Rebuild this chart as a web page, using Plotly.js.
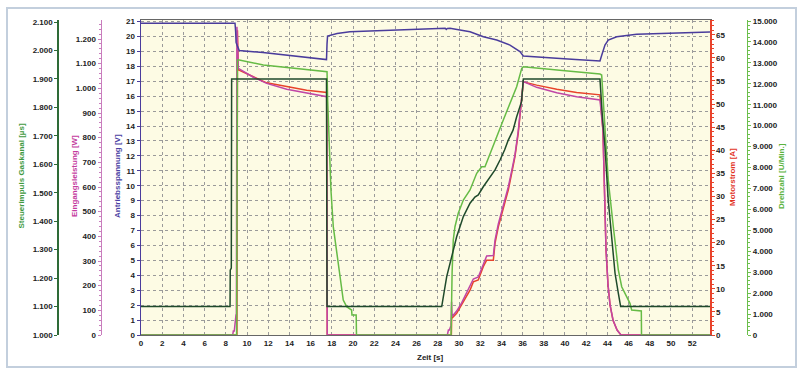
<!DOCTYPE html>
<html>
<head>
<meta charset="utf-8">
<script src="https://cdn.plot.ly/plotly-3.0.1.min.js"></script>
<style>html,body{margin:0;padding:0;background:#fff;}#chart{width:800px;height:374px;}</style>
</head>
<body>
<div id="chart"></div>
<script>
// ---- Data ----
// Antriebsspannung [V]
const tVolt = [0, 8.87, 8.93, 8.97, 9.1, 9.27, 11.5, 13.5, 15.5, 17.5, 17.55, 17.6, 18.5, 19.7, 21.6, 23.5, 25.5, 27.5, 28.7, 28.8, 28.9, 29.15, 30.0, 31.04, 32.3, 33.56, 34.81, 35.75, 36.07, 37.5, 39.2, 41.0, 43.3, 43.45, 43.61, 43.77, 44.08, 44.88, 46.76, 49.27, 51.79, 53.68];
const volt  = [20.88, 20.88, 20.3, 19.6, 19.35, 19.05, 18.92, 18.78, 18.62, 18.45, 19.5, 20.03, 20.2, 20.31, 20.36, 20.42, 20.46, 20.51, 20.55, 20.47, 20.53, 20.54, 20.45, 20.31, 19.98, 19.76, 19.42, 18.98, 18.69, 18.6, 18.53, 18.45, 18.35, 18.7, 19.09, 19.42, 19.76, 19.98, 20.14, 20.21, 20.27, 20.3];

// Steuerimpuls Gaskanal [µs]
const tServo = [0, 8.40, 8.42, 8.52, 8.55, 17.5, 17.55, 28.37, 28.84, 29.31, 29.78, 30.41, 31.04, 31.5, 31.82, 32.29, 32.92, 33.4, 33.87, 34.3, 34.65, 35.1, 35.44, 35.75, 35.9, 36.07, 43.3, 43.53, 43.77, 44.08, 44.39, 44.72, 45.03, 45.25, 53.68];
const servo  = [1100, 1100, 1228, 1235, 1900, 1900, 1100, 1100, 1205, 1275, 1345, 1416, 1463, 1485, 1492, 1521, 1556, 1580, 1615, 1650, 1685, 1720, 1767, 1802, 1820, 1900, 1900, 1767, 1662, 1474, 1334, 1217, 1147, 1100, 1100];

// Drehzahl [U/Min.]
const tRpm = [0, 9.02, 9.1, 9.27, 11.54, 14.06, 17.55, 17.61, 17.74, 17.92, 18.14, 18.46, 18.77, 19.08, 19.4, 19.87, 19.9, 20.3, 20.33, 29.25, 29.35, 29.46, 29.62, 29.93, 30.41, 31.04, 31.67, 32.14, 32.45, 32.92, 33.56, 34.18, 34.81, 35.44, 35.92, 36.07, 39.5, 43.3, 43.46, 43.77, 44.08, 44.56, 45.03, 45.35, 45.82, 46.13, 46.29, 47.2, 47.22, 53.68];
const rpm  = [0, 0, 13137, 13137, 12898, 12769, 12578, 11226, 9315, 6927, 5173, 3917, 2627, 1672, 1352, 1194, 955, 955, 0, 0, 3000, 4538, 5173, 5814, 6449, 6927, 7724, 8040, 8040, 8680, 9473, 10271, 11068, 11861, 12740, 12817, 12650, 12468, 12420, 10113, 7404, 5173, 3105, 2307, 1830, 1514, 1194, 1150, 0, 0];

// Motorstrom [A]
const tAmp = [0, 9.05, 9.1, 9.18, 10.6, 11.86, 13.75, 15.63, 17.52, 17.57, 29.28, 29.31, 29.78, 30.25, 30.57, 31.04, 31.35, 31.82, 32.29, 32.61, 33.24, 33.40, 33.71, 34.03, 34.34, 34.65, 34.97, 35.28, 35.59, 35.75, 36.0, 36.07, 37.33, 39.22, 41.1, 43.3, 43.58, 43.73, 43.87, 44.06, 44.25, 44.53, 44.91, 45.28, 53.68];
const amp  = [0, 0, 66, 57.4, 55.9, 54.6, 53.8, 53.0, 52.5, 0, 0, 3.6, 4.7, 6.5, 7.9, 9.7, 11.5, 11.9, 14.8, 16.2, 16.2, 19.9, 23.4, 26.3, 28.5, 31.4, 35.0, 38.6, 43.7, 47.3, 54.5, 54.8, 54.1, 53.2, 52.5, 52.0, 44.4, 29.2, 18.4, 10.8, 6.5, 3.2, 1.1, 0, 0];

// Eingangsleistung [W]
const tPow = [0, 8.65, 8.71, 8.8, 8.96, 9.0, 9.05, 9.12, 9.18, 10.6, 11.86, 13.75, 15.63, 17.52, 17.57, 28.9, 29.0, 29.1, 29.25, 29.3, 29.35, 29.78, 30.25, 30.57, 31.04, 31.35, 31.82, 32.29, 32.61, 33.24, 33.40, 33.71, 34.03, 34.34, 34.65, 34.97, 35.28, 35.59, 35.75, 36.0, 36.07, 37.33, 39.22, 41.1, 43.3, 43.58, 43.73, 43.87, 44.06, 44.25, 44.53, 44.91, 45.28, 53.68];
const pow  = [0, 0, 16, 16, 81, 81, 1250, 1150, 1081, 1045, 1020, 996, 980, 966, 0, 0, 20, 20, 40, 135, 75, 97, 130, 158, 193, 227, 235, 288, 320, 322, 385, 450, 503, 547, 600, 665, 730, 827, 896, 1022, 1027, 1004, 982, 966, 953, 831, 547, 345, 203, 122, 61, 20, 0, 0];

// Axis tick values
const xTicks = [0,2,4,6,8,10,12,14,16,18,20,22,24,26,28,30,32,34,36,38,40,42,44,46,48,50,52];
const servoTicks = [1000,1100,1200,1300,1400,1500,1600,1700,1800,1900,2000,2100];
const powTicks = [0,100,200,300,400,500,600,700,800,900,1000,1100,1200];

// ---- Colours ----
const cVolt = '#4a3c9c', cServo = '#1f4a2b', cRpm = '#66bb46', cAmp = '#e8432b', cPow = '#c046a6';

// Drawing order follows axis ids: y (Motorstrom) first ... y5 (Antriebsspannung) last
const lw = 1.5;
const traces = [
  {x: tAmp, y: amp, yaxis: 'y', mode: 'lines', line: {color: cAmp, width: lw}, name: 'Motorstrom'},
  {x: tPow, y: pow, yaxis: 'y2', mode: 'lines', line: {color: cPow, width: lw}, name: 'Eingangsleistung'},
  {x: tRpm, y: rpm, yaxis: 'y3', mode: 'lines', line: {color: cRpm, width: lw}, name: 'Drehzahl'},
  {x: tServo, y: servo, yaxis: 'y4', mode: 'lines', line: {color: cServo, width: lw}, name: 'Steuerimpuls'},
  {x: tVolt, y: volt, yaxis: 'y5', mode: 'lines', line: {color: cVolt, width: lw}, name: 'Antriebsspannung'}
];

const W = 800, H = 374, T = 20, B = 39;
const plotH = H - T - B;
const px = v => v / W;
const py = v => (H - B - v) / plotH;

const tf = {family: 'Liberation Sans, Arial, sans-serif', size: 8, color: '#222', weight: 700};
const commonY = {showgrid: false, zeroline: false, showline: true, linewidth: 1.5, ticks: 'outside', ticklen: 3, tickfont: tf, fixedrange: true};

const layout = {
  width: W, height: H,
  margin: {l: 0, r: 0, t: T, b: B},
  paper_bgcolor: '#ffffff',
  plot_bgcolor: '#fdfbe4',
  separators: ',.',
  showlegend: false,
  font: tf,
  xaxis: {
    domain: [141 / W, 710 / W], range: [0, 53.68],
    tickvals: xTicks, ticks: '', tickfont: tf,
    showgrid: true, gridcolor: '#9a9a9a', griddash: 'dot', gridwidth: 1,
    zeroline: false, showline: true, linecolor: '#666', linewidth: 1, mirror: true
  },
  // Motorstrom (right, on plot edge)
  yaxis: Object.assign({}, commonY, {
    anchor: 'x', side: 'right',
    range: [0, 315 * 0.2165], dtick: 5, tick0: 0,
    linecolor: cAmp, tickcolor: cAmp,
    minor: {dtick: 1, ticklen: 2, tickcolor: cAmp, ticks: 'outside'}
  }),
  // Eingangsleistung (left, free)
  yaxis2: Object.assign({}, commonY, {
    overlaying: 'y', anchor: 'free', position: 100.5 / W, side: 'left',
    range: [0, 315 * 4.054], tickvals: powTicks,
    tickformat: ',d', linecolor: '#c97dbd', tickcolor: '#c97dbd',
    minor: {dtick: 20, ticklen: 2, tickcolor: '#c97dbd', ticks: 'outside'}
  }),
  // Drehzahl (right, free)
  yaxis3: Object.assign({}, commonY, {
    overlaying: 'y', anchor: 'free', position: 746.7 / W, side: 'right',
    range: [0, 315 * 47.77], dtick: 1000, tick0: 0, tickformat: ',d',
    linecolor: '#6cbf4c', tickcolor: '#6cbf4c',
    minor: {dtick: 200, ticklen: 2, tickcolor: '#6cbf4c', ticks: 'outside'}
  }),
  // Steuerimpuls (left, free)
  yaxis4: Object.assign({}, commonY, {
    overlaying: 'y', anchor: 'free', position: 57.3 / W, side: 'left',
    range: [1000, 1000 + 315 * 1100 / 313], tickvals: servoTicks,
    tickformat: ',d', linecolor: '#2e6b37', tickcolor: '#2e6b37'
  }),
  // Antriebsspannung (left, on plot edge) with grid
  yaxis5: Object.assign({}, commonY, {
    overlaying: 'y', anchor: 'x', side: 'left',
    range: [0, 21.1], dtick: 1, tick0: 0, linecolor: cVolt, tickcolor: cVolt,
    showgrid: true, gridcolor: '#9a9a9a', griddash: 'dot', gridwidth: 1
  }),
  shapes: [
    {type: 'rect', xref: 'paper', yref: 'paper', x0: px(7), x1: px(796), y0: py(367), y1: py(8),
     line: {color: '#c3cfdd', width: 2}, fillcolor: 'rgba(0,0,0,0)', layer: 'below'}
  ],
  annotations: [
    {text: 'Steuerimpuls Gaskanal [µs]', x: px(20.5), y: py(176), color: '#3f9a3f'},
    {text: 'Eingangsleistung [W]', x: px(74), y: py(176), color: '#c43a9e'},
    {text: 'Antriebsspannung [V]', x: px(117), y: py(176), color: '#4b3fa3'},
    {text: 'Motorstrom [A]', x: px(732), y: py(177), color: '#e2341f'},
    {text: 'Drehzahl [U/Min.]', x: px(781), y: py(176), color: '#5cb43f'}
  ].map(a => ({
    text: a.text, x: a.x, y: a.y, xref: 'paper', yref: 'paper', showarrow: false,
    textangle: -90, xanchor: 'center', yanchor: 'middle',
    font: {family: 'Liberation Sans, Arial, sans-serif', size: 8, color: a.color, weight: 700}
  })).concat([
    {text: 'Zeit [s]', x: px(430), y: py(357), xref: 'paper', yref: 'paper', showarrow: false,
     xanchor: 'center', yanchor: 'middle', font: tf}
  ])
};

Plotly.newPlot('chart', traces, layout, {staticPlot: true, displayModeBar: false});
</script>
</body>
</html>
